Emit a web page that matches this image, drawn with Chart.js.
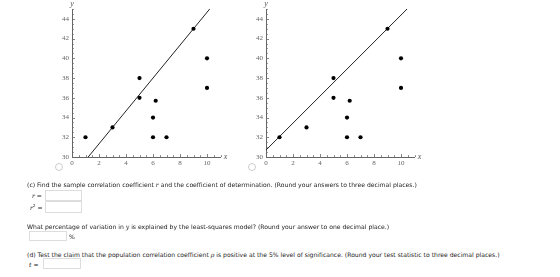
<!DOCTYPE html>
<html>
<head>
<meta charset="utf-8">
<script src="https://cdn.jsdelivr.net/npm/chart.js@4/dist/chart.umd.min.js"></script>
<style>
body { margin:0; background:#fff; width:560px; height:277px; position:relative; overflow:hidden; }
canvas { position:absolute; top:0; }
#c1 { left:0; }
#c2 { left:200px; }
.radio { position:absolute; width:6px; height:6px; border:1px solid #ccc; border-radius:50%; background:#fff; }
.q { position:absolute; font-family:"DejaVu Sans", Verdana, sans-serif; font-size:6.1px; color:#222; white-space:nowrap; }
.box { position:absolute; border:1px solid #ddd; background:#fff; }
.q i { font-family:"DejaVu Serif", serif; }
</style>
</head>
<body>
<canvas id="c1" width="240" height="175"></canvas>
<canvas id="c2" width="240" height="175"></canvas>
<span class="radio" style="left:55px;top:163px"></span>
<span class="radio" style="left:248px;top:163px"></span>

<div class="q" style="left:27px;top:181px">(c) Find the sample correlation coefficient <i>r</i> and the coefficient of determination. (Round your answers to three decimal places.)</div>
<div class="q" style="left:32px;top:192px"><i>r</i> =</div>
<div class="box" style="left:45px;top:190px;width:35px;height:9px"></div>
<div class="q" style="left:30px;top:203px"><i>r</i><sup style="font-size:4px">2</sup> =</div>
<div class="box" style="left:45px;top:201px;width:35px;height:10px"></div>
<div class="q" style="left:27px;top:223px">What percentage of variation in <i>y</i> is explained by the least-squares model? (Round your answer to one decimal place.)</div>
<div class="box" style="left:29px;top:231px;width:36px;height:8px"></div>
<div class="q" style="left:69px;top:233px">%</div>
<div class="q" style="left:27px;top:251px">(d) Test the claim that the population correlation coefficient <i>&rho;</i> is positive at the 5% level of significance. (Round your test statistic to three decimal places.)</div>
<div class="q" style="left:29px;top:261px"><i>t</i> =</div>
<div class="box" style="left:43px;top:258px;width:36px;height:9px"></div>

<script>
// scatter data (same points in both plots)
var xs = [1, 3, 5, 5, 6.2, 6, 6, 7, 9, 10, 10];
var ys = [32, 33, 38, 36, 35.7, 34, 32, 32, 43, 40, 37];

// lines drawn over the points (endpoints)
var lineAx = [1.2, 10.2];
var lineAy = [30, 45];
var lineBx = [0, 10.45];
var lineBy = [30.7, 45];

var xTicks = [0, 2, 4, 6, 8, 10];
var yTicks = [30, 32, 34, 36, 38, 40, 42, 44];

function pts(a, b){
	var out = [];
	for (var i = 0; i < a.length; i++) out.push({x: a[i], y: b[i]});
	return out;
}

// mathematica style ticks drawn on the inside of the axes + axis letters
var insideTicks = {
	id: 'insideTicks',
	afterDraw: function(chart){
		var ctx = chart.ctx, xs_ = chart.scales.x, ys_ = chart.scales.y, a = chart.chartArea;
		ctx.save();
		ctx.strokeStyle = '#666';
		ctx.lineWidth = 0.8;
		ctx.beginPath();
		for (var v = xs_.min; v <= xs_.max + 1e-9; v += 0.5) {
			var px = Math.round(xs_.getPixelForValue(v)) + 0.5;
			var len = (Math.abs(v / 2 - Math.round(v / 2)) < 1e-9) ? 3 : 1.8;
			ctx.moveTo(px, a.bottom);
			ctx.lineTo(px, a.bottom - len);
		}
		for (var w = ys_.min; w <= ys_.max + 1e-9; w += 0.5) {
			var py = Math.round(ys_.getPixelForValue(w)) + 0.5;
			var len2 = (Math.abs(w / 2 - Math.round(w / 2)) < 1e-9) ? 3 : 1.8;
			ctx.moveTo(a.left, py);
			ctx.lineTo(a.left + len2, py);
		}
		ctx.stroke();
		ctx.fillStyle = '#555';
		ctx.font = 'italic 8px "Liberation Serif"';
		ctx.textAlign = 'center';
		ctx.textBaseline = 'middle';
		ctx.fillText('y', a.left, a.top - 5);
		ctx.fillText('x', a.right + 5, a.bottom);
		ctx.restore();
	}
};

function makeChart(id, lx, ly, pad){
	return new Chart(document.getElementById(id), {
		type: 'scatter',
		data: {
			datasets: [
				{ data: pts(xs, ys), backgroundColor: '#000', borderWidth: 0, pointRadius: 2.1, order: 1 },
				{ type: 'line', data: pts(lx, ly), borderColor: '#222', borderWidth: 1, pointRadius: 0, fill: false, order: 2 }
			]
		},
		options: {
			responsive: false,
			animation: false,
			devicePixelRatio: 1,
			layout: { padding: pad },
			plugins: { legend: { display: false }, tooltip: { enabled: false } },
			scales: {
				x: {
					type: 'linear', min: 0, max: 11,
					grid: { display: false, drawTicks: false },
					border: { display: true, color: '#666', width: 1 },
					afterFit: function(s){ s.height = 14; },
					afterBuildTicks: function(s){ s.ticks = xTicks.map(function(v){ return {value: v}; }); },
					ticks: { padding: 2, color: '#666', font: { family: 'Liberation Serif', size: 7 }, maxRotation: 0 }
				},
				y: {
					type: 'linear', min: 30, max: 45,
					grid: { display: false, drawTicks: false },
					border: { display: true, color: '#666', width: 1 },
					afterFit: function(s){ s.width = 20; },
					afterBuildTicks: function(s){ s.ticks = yTicks.map(function(v){ return {value: v}; }); },
					ticks: { padding: 3, color: '#666', font: { family: 'Liberation Serif', size: 7 } }
				}
			}
		},
		plugins: [insideTicks]
	});
}

makeChart('c1', lineAx, lineAy, { left: 52, right: 19.5, top: 9, bottom: 4 });
makeChart('c2', lineBx, lineBy, { left: 46, right: 25.5, top: 9, bottom: 4 });
</script>
</body>
</html>
